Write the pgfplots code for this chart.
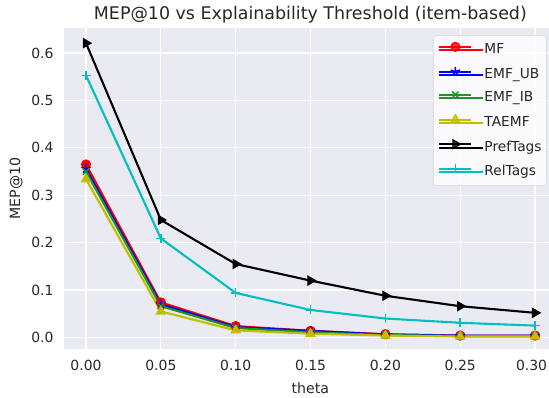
\documentclass[border=0pt]{standalone}
\usepackage{fontspec}
\setmainfont{DejaVu Sans}
\usepackage{pgfplots}
\pgfplotsset{compat=1.18}
\definecolor{sbbg}{HTML}{EAEAF2}
\definecolor{txt}{HTML}{262626}
\definecolor{mplg}{HTML}{1F951F}
\definecolor{mply}{rgb}{0.75,0.75,0}
\definecolor{mplc}{rgb}{0,0.75,0.75}
\begin{document}
\begin{tikzpicture}
\useasboundingbox (-64bp,-49bp) rectangle (485bp,349bp);
\begin{axis}[
  scale only axis, width=485bp, height=320.7bp,
  xmin=-0.0147, xmax=0.3093, ymin=-0.0243, ymax=0.6523,
  axis background/.style={fill=sbbg},
  axis line style={draw=none},
  grid=major, major grid style={white, line width=1.2bp},
  tick style={draw=none},
  xtick={0,0.05,0.1,0.15,0.2,0.25},
  extra x ticks={0.3},
  extra x tick labels={0.30},
  extra x tick style={grid=major, major grid style={white, line width=1.2bp},
    xticklabel style={xshift=-3.5bp}},
  ytick={0,0.1,0.2,0.3,0.4,0.5,0.6},
  scaled ticks=false,
  xticklabel={\pgfmathprintnumber[fixed,fixed zerofill,precision=2]{\tick}},
  yticklabel={\pgfmathprintnumber[fixed,fixed zerofill,precision=1]{\tick}},
  /pgf/number format/assume math mode=true,
  tick label style={font=\fontsize{14}{17}\selectfont, text=txt},
  xticklabel style={yshift=-8bp},
  yticklabel style={xshift=-7bp},
  xlabel={theta}, ylabel={MEP@10},
  label style={font=\fontsize{14.2}{17}\selectfont, text=txt},
  xlabel style={at={(axis description cs:0.508,0)}, anchor=center, yshift=-39bp},
  ylabel style={at={(axis description cs:-0.099,0.5)}, anchor=center},
  title={MEP@10 vs Explainability Threshold (item-based)},
  title style={font=\fontsize{17.5}{20}\selectfont, text=txt,
    at={(axis description cs:0.508,1)}, anchor=center, yshift=7.5bp},
  every axis plot/.append style={line width=2.1bp, mark size=4.5bp},
  legend style={at={(1,1)}, anchor=north east, xshift=-2bp, yshift=-6.7bp,
    font=\fontsize{13.8}{16}\selectfont, text=txt,
    fill=white, fill opacity=0.8, text opacity=1, draw=gray!25, line width=0.8bp,
    rounded corners=3bp, inner xsep=5bp, inner ysep=7bp, row sep=9.9bp, column sep=0bp,
    nodes={inner sep=0bp, text height=10bp, text depth=3bp}},
  legend cell align=left,
  legend image code/.code={%
    \path (0bp,0bp) -- (44bp,0bp);
    \draw[mark repeat=2,mark phase=2] plot coordinates {(0bp,3.5bp) (16bp,3.5bp) (32bp,3.5bp)};},
]
\addplot[color=red, mark=*, mark options={solid, line width=1.2bp}] coordinates {
(0.00,0.365) (0.05,0.074) (0.10,0.024) (0.15,0.014) (0.20,0.007) (0.25,0.004) (0.30,0.004)};
\addlegendentry{MF}
\addplot[color=blue, mark=star, mark options={solid, line width=1.5bp}, mark size=4.8bp] coordinates {
(0.00,0.356) (0.05,0.070) (0.10,0.022) (0.15,0.014) (0.20,0.006) (0.25,0.004) (0.30,0.004)};
\addlegendentry{EMF\_UB}
\addplot[color=mplg, mark=x, mark options={solid, line width=1.5bp}] coordinates {
(0.00,0.350) (0.05,0.066) (0.10,0.020) (0.15,0.011) (0.20,0.005) (0.25,0.003) (0.30,0.003)};
\addlegendentry{EMF\_IB}
\addplot[color=mply, mark=triangle*, mark options={solid, line width=1bp}, mark size=5.2bp] coordinates {
(0.00,0.334) (0.05,0.055) (0.10,0.015) (0.15,0.008) (0.20,0.004) (0.25,0.002) (0.30,0.002)};
\addlegendentry{TAEMF}
\addplot[color=black, mark=triangle*, mark options={solid, rotate=-90, line width=1bp}, mark size=5.2bp] coordinates {
(0.00,0.621) (0.05,0.248) (0.10,0.155) (0.15,0.120) (0.20,0.088) (0.25,0.066) (0.30,0.052)};
\addlegendentry{PrefTags}
\addplot[color=mplc, mark=+, mark options={solid, line width=1.5bp}] coordinates {
(0.00,0.553) (0.05,0.209) (0.10,0.094) (0.15,0.058) (0.20,0.040) (0.25,0.031) (0.30,0.025)};
\addlegendentry{RelTags}
\end{axis}
\end{tikzpicture}
\end{document}
